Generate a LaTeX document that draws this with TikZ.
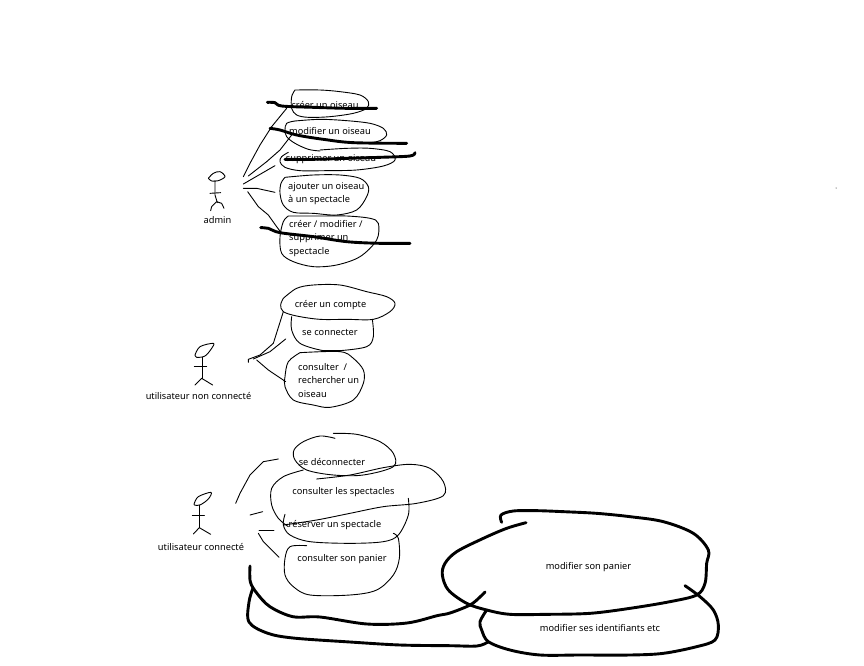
\documentclass[tikz,border=0pt]{standalone}
\usepackage{fontspec}
\setmainfont{Noto Sans}
\tikzset{
  pen/.style={line width=0.9pt,line join=round,line cap=round},
  penheavy/.style={line width=2.9pt,line join=round,line cap=round},
  lbl/.style={inner sep=0pt,font=\fontsize{9.25}{13.2}\selectfont},
  lblleft/.style={lbl,anchor=west,align=left},
  sm/.style={smooth,tension=0.55}
}
\begin{document}
\begin{tikzpicture}[x=1pt,y=-1pt]
\useasboundingbox (0,0) rectangle (864,666);
\fill[white] (0,0) rectangle (864,666);
% labels
\node[lbl] (t1) at (325,105) {créer un oiseau};
\node[lbl] (t2) at (330,131.5) {modifier un oiseau};
\node[lbl] (t3) at (331,159.5) {supprimer un oiseau};
\node[lblleft] (t4) at (288,193.5) {ajouter un oiseau\\à un spectacle};
\node[lblleft] (t5) at (289,238.5) {créer / modifier /\\supprimer un\\spectacle};
\node[lbl] (adm) at (217.5,220.5) {admin};
\node[lbl] (t6) at (330.5,305.5) {créer un compte};
\node[lbl] (t7) at (330,332) {se connecter};
\node[lblleft] (t8) at (298,380.5) {consulter~ /\\rechercher un\\oiseau};
\node[lbl] (unc) at (198.5,395.5) {utilisateur non connecté};
\node[lbl] (t9) at (332,461.5) {se déconnecter};
\node[lbl] (t10) at (343.5,492.5) {consulter les spectacles};
\node[lbl] (t11) at (335,525.5) {réserver un spectacle};
\node[lbl] (t12) at (342,559.5) {consulter son panier};
\node[lbl] (uc) at (201,546.5) {utilisateur connecté};
\node[lbl] (t13) at (588.5,567) {modifier son panier};
\node[lbl] (t14) at (600,628.5) {modifier ses identifiants etc};
% admin block
\begin{scope}[shift={(180,80)},scale=1/3]
\draw[pen] plot[sm] coordinates {(345,30)(335,50)(335,85)(350,105)(385,112)(450,110)(520,100)(560,85)(565,65)(540,45)(480,35)(420,30)(345,30)};
\draw[pen] plot[sm] coordinates {(345,123)(320,130)(315,150)(320,170)(345,190)(385,208)(420,213)};
\draw[pen] plot[sm] coordinates {(345,123)(420,118)(500,122)(570,130)(610,145)(620,165)(600,182)(570,188)(520,188)};
\draw[pen] plot[sm] coordinates {(325,217)(305,230)(300,245)(315,262)(360,272)(440,272)(530,270)(610,258)(645,240)(630,215)(570,205)(500,205)(420,210)};
\draw[pen] plot[sm] coordinates {(315,292)(303,310)(300,340)(310,375)(340,397)(400,400)(470,405)(530,390)(560,350)(565,320)(540,295)(480,285)(400,285)(315,292)};
\draw[pen] plot[sm] coordinates {(325,408)(310,425)(300,470)(305,520)(340,545)(400,560)(470,555)(540,530)(590,480)(595,430)(570,415)(500,408)(420,408)(325,408)};
\draw[pen] (190,290)--(210,250)--(240,195)--(275,140)--(320,85);
\draw[pen] (205,288)--(260,245)--(300,210)--(335,165);
\draw[pen] (190,312)--(285,257);
\draw[pen] (190,325)--(230,325)--(285,337);
\draw[pen] (203,335)--(235,380)--(265,405)--(290,440)--(305,460);
\draw[pen] plot[sm] coordinates {(85,295)(100,280)(120,275)(135,290)(115,302)(95,303)(85,295)};
\draw[pen] (105,302)--(105,345)--(112,368);
\draw[pen] (90,340)--(122,338);
\draw[pen] (92,392)--(95,380)--(110,365)--(125,370)--(132,385);
\draw[penheavy] plot[sm] coordinates {(262,67)(285,68)(305,78)(400,82)(500,85)(590,85)};
\draw[penheavy] plot[sm] coordinates {(270,145)(300,150)(350,165)(430,178)(520,188)(680,190)};
\draw[penheavy] plot[sm] coordinates {(315,238)(400,238)(500,235)(600,232)(690,228)(705,218)};
\draw[penheavy] plot[sm] coordinates {(242,443)(265,445)(300,458)(400,470)(500,485)(600,490)(690,490)};
\end{scope}
% non connected block
\begin{scope}[shift={(140,280)},scale=1/3]
\draw[pen] plot[sm] coordinates {(430,55)(422,75)(430,95)(470,108)(540,118)(620,118)(700,118)(750,95)(765,70)(740,50)(680,35)(600,15)(520,15)(470,25)(430,55)};
\draw[pen] plot[sm] coordinates {(455,110)(455,150)(480,190)(550,212)(600,212)(680,200)(700,170)(697,118)};
\draw[pen] plot[sm] coordinates {(480,218)(445,245)(435,290)(435,320)(460,360)(520,375)(570,382)(640,360)(670,310)(670,270)(640,235)(600,215)(480,218)};
\draw[penheavy,line width=1.8pt] (550,212)--(600,212);
\draw[pen] (325,247)--(325,238)--(360,225)--(400,190)--(430,95);
\draw[pen] (340,237)--(390,215)--(437,177);
\draw[pen] (350,240)--(385,270)--(437,305);
\draw[pen] plot[sm] coordinates {(165,225)(180,200)(220,190)(215,205)(195,228)(170,232)(165,225)};
\draw[pen] (187,232)--(187,295);
\draw[pen] (163,258)--(200,258);
\draw[pen] (165,315)--(185,295)--(218,315);
\end{scope}
% connected block
\begin{scope}[shift={(150,425)},scale=1/3]
\draw[pen] plot[sm] coordinates {(555,40)(510,33)(460,50)(432,75)(435,105)(470,135)(550,150)(640,150)(730,125)(730,85)(690,50)(620,28)(550,25)};
\draw[pen] plot[sm] coordinates {(460,135)(400,155)(365,190)(365,240)(385,280)(415,305)};
\draw[pen] plot[sm] coordinates {(400,300)(500,285)(600,265)(700,245)(800,235)(880,212)(880,170)(840,130)(780,118)(700,128)(600,150)(500,162)};
\draw[pen] plot[sm] coordinates {(405,268)(400,300)(420,330)(480,350)(600,355)(700,350)(745,330)(775,270)(775,220)};
\draw[pen] plot[sm] coordinates {(470,362)(420,365)(405,400)(405,450)(430,485)(480,510)(600,510)(680,495)(730,450)(748,400)(745,340)(730,325)};
\draw[pen] (257,235)--(270,205)--(300,150)--(340,110)--(385,102);
\draw[pen] (300,270)--(338,260);
\draw[pen] (327,316)--(372,316);
\draw[pen] (325,325)--(340,350)--(387,397);
\draw[pen] plot[sm] coordinates {(133,235)(145,215)(183,202)(175,222)(150,240)(133,240)(133,235)};
\draw[pen] (148,240)--(148,308);
\draw[pen] (127,271)--(163,271);
\draw[pen] (130,327)--(148,308)--(182,328);
\end{scope}
% heavy curves
\draw[penheavy] plot[sm] coordinates {(250,566)(250.3,581.7)(256.7,593)(270,606.7)(293,616.7)(320,617)(367,624)(407,623)(437,615.7)(450,613)(470,605)(480,597)(485,592)};
\draw[penheavy] plot[sm] coordinates {(253,588)(249,602)(249,622)(267,633)(293,638)(350,642)(400,645)(450,645.7)(477,646)(488,642)};
\begin{scope}[shift={(430,500)},scale=1/3]
\draw[penheavy] plot[sm] coordinates {(288,68)(230,85)(160,115)(80,155)(45,190)(37,225)(55,270)(110,310)(170,330)(240,343)(350,343)(480,340)(600,325)(720,305)(800,285)(825,250)(830,190)(835,150)(790,100)(700,65)(600,50)(500,40)(400,35)(320,32)(250,33)(213,45)(215,67)};
\draw[penheavy] plot[sm] coordinates {(765,257)(810,290)(850,330)(865,375)(855,420)(800,440)(700,460)(600,465)(450,465)(330,465)(240,450)(175,425)(155,390)(150,365)(170,330)};
\end{scope}
\fill (836,188) circle (0.5);
\end{tikzpicture}
\end{document}
